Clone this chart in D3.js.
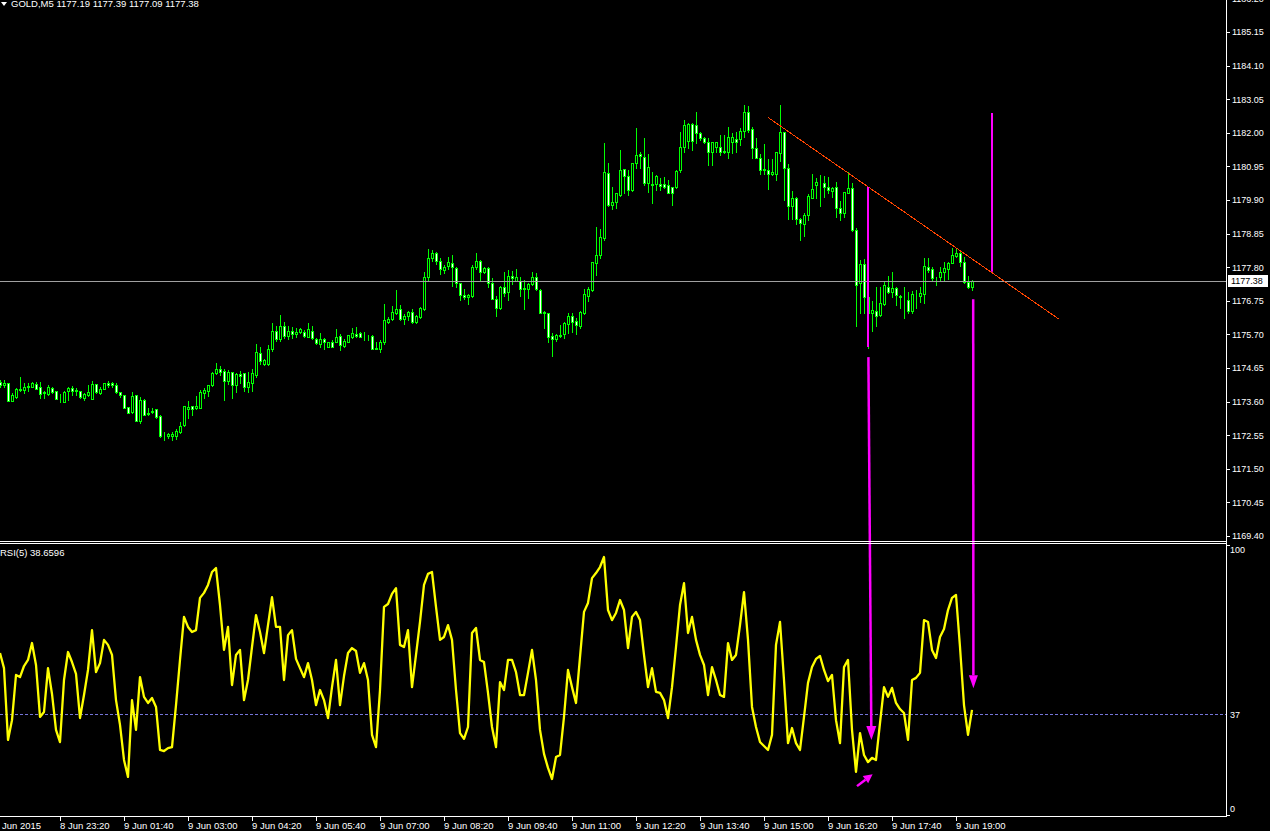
<!DOCTYPE html>
<html>
<head>
<meta charset="utf-8">
<script src="https://cdn.jsdelivr.net/npm/d3@7"></script>
<style>
body { margin: 0; background: #000; overflow: hidden; }
svg { display: block; }
text { font-family: "Liberation Sans", Arial, sans-serif; font-size: 9.5px; fill: #fff; }
text.axis { font-size: 9px; }
</style>
</head>
<body>
<svg id="chart" width="1270" height="831"></svg>
<script>
// GOLD M5 candles, bar 0 = leftmost visible bar
const open = [
1174.21,1174.13,1174.17,1173.63,1173.73,1173.98,1173.96,1174.06,1174.07,1174.14,
1174.05,1173.91,1173.83,1174.03,1173.93,1173.61,1173.60,1173.92,1174.03,1173.96,
1173.93,1173.71,1173.80,1173.69,1174.15,1173.86,1174.00,1174.18,1174.19,1174.12,
1173.89,1173.80,1173.42,1173.29,1173.80,1172.98,1173.65,1173.24,1173.27,1173.36,
1173.15,1172.53,1172.51,1172.51,1172.53,1172.64,1172.87,1173.36,1173.45,1173.40,
1173.41,1173.86,1173.94,1174.13,1174.48,1174.62,1174.55,1174.25,1174.53,1174.12,
1174.47,1174.49,1174.05,1174.19,1174.44,1175.13,1174.78,1174.76,1175.23,1175.80,
1175.55,1175.95,1175.65,1175.80,1175.70,1175.78,1175.78,1175.63,1175.82,1175.56,
1175.40,1175.55,1175.32,1175.45,1175.47,1175.64,1175.34,1175.47,1175.63,1175.70,
1175.73,1175.66,1175.66,1175.65,1175.28,1175.25,1175.47,1176.10,1176.19,1176.36,
1176.48,1176.17,1176.28,1176.39,1176.10,1176.23,1176.48,1177.50,1178.10,1178.23,
1178.00,1177.71,1177.85,1177.94,1177.77,1177.30,1176.92,1176.86,1176.91,1177.82,
1177.99,1177.64,1177.77,1177.32,1176.80,1176.53,1177.17,1177.01,1177.53,1177.38,
1177.38,1177.14,1177.11,1177.28,1177.49,1177.09,1176.40,1176.36,1175.65,1175.55,
1175.69,1175.71,1176.02,1176.28,1176.12,1175.96,1176.38,1176.90,1177.09,1177.94,
1178.18,1178.70,1180.73,1179.74,1179.83,1180.05,1180.86,1180.65,1180.21,1181.05,
1181.33,1181.25,1180.42,1180.41,1180.39,1180.39,1180.39,1180.37,1180.30,1180.30,
1180.84,1181.57,1181.75,1182.28,1182.24,1181.98,1181.85,1181.72,1181.41,1181.57,
1181.57,1181.44,1181.41,1181.72,1181.80,1181.80,1182.07,1182.66,1182.11,1181.51,
1181.20,1180.87,1180.83,1180.71,1180.70,1181.36,1182.02,1180.89,1179.72,1179.95,
1179.31,1179.14,1179.43,1179.95,1180.38,1180.42,1180.42,1180.32,1180.19,1180.30,
1179.64,1179.50,1180.13,1180.27,1178.96,1177.30,1177.90,1176.86,1176.36,1176.43,
1176.31,1176.65,1177.19,1177.04,1177.14,1176.89,1176.87,1176.76,1176.42,1176.96,
1176.90,1176.96,1177.80,1177.74,1177.47,1177.48,1177.66,1177.75,1177.92,1178.16,
1178.24,1177.95,1177.35,1177.19
];
const high = [
1174.28,1174.28,1174.17,1173.86,1174.03,1174.38,1174.17,1174.19,1174.20,1174.22,
1174.21,1173.94,1174.11,1174.07,1173.93,1173.84,1173.94,1174.06,1174.08,1174.02,
1173.93,1173.86,1174.12,1174.24,1174.15,1174.07,1174.19,1174.25,1174.22,1174.17,
1173.91,1173.81,1173.44,1173.91,1173.81,1173.75,1173.69,1173.39,1173.39,1173.38,
1173.18,1172.65,1172.61,1172.64,1172.74,1172.97,1173.47,1173.62,1173.47,1173.79,
1173.96,1174.02,1174.13,1174.53,1174.82,1174.71,1174.61,1174.60,1174.54,1174.48,
1174.56,1174.49,1174.52,1174.61,1175.40,1175.30,1174.92,1175.37,1176.05,1175.95,
1176.30,1176.10,1175.95,1175.92,1175.90,1175.89,1175.84,1176.05,1175.96,1175.60,
1175.73,1175.60,1175.47,1175.53,1175.87,1175.70,1175.57,1175.68,1175.89,1175.92,
1175.79,1175.79,1175.67,1175.67,1175.47,1175.53,1176.65,1176.23,1176.59,1177.09,
1176.62,1176.34,1176.43,1176.49,1176.31,1176.57,1177.64,1178.36,1178.34,1178.28,
1178.08,1177.86,1178.11,1178.18,1177.82,1177.32,1177.11,1176.95,1177.87,1178.23,
1178.03,1177.82,1177.80,1177.45,1176.91,1177.21,1177.64,1177.71,1177.69,1177.73,
1177.50,1177.40,1177.32,1177.64,1177.62,1177.11,1176.43,1176.38,1175.75,1175.70,
1175.99,1176.09,1176.36,1176.36,1176.22,1176.43,1177.11,1177.19,1177.97,1179.07,
1178.98,1181.67,1181.05,1180.30,1180.13,1181.46,1180.87,1180.84,1181.07,1182.14,
1181.39,1181.83,1181.34,1180.76,1180.68,1180.58,1180.61,1180.53,1180.32,1180.84,
1182.04,1182.40,1182.30,1182.30,1182.64,1182.04,1181.88,1181.83,1181.72,1181.72,
1181.93,1181.93,1182.17,1181.98,1182.04,1182.14,1182.87,1182.85,1182.19,1181.83,
1181.34,1181.65,1181.17,1181.17,1181.41,1182.87,1182.02,1181.03,1180.18,1179.98,
1179.33,1179.48,1180.10,1180.71,1180.58,1180.68,1180.65,1180.61,1180.32,1180.47,
1179.88,1180.16,1180.79,1180.42,1179.02,1178.03,1178.05,1177.14,1176.75,1177.19,
1177.19,1177.35,1177.53,1177.66,1177.19,1176.93,1177.19,1177.04,1177.06,1177.09,
1177.19,1178.08,1178.08,1177.82,1177.50,1177.82,1177.97,1177.97,1178.41,1178.41,
1178.26,1178.13,1177.53,1177.39
];
const low = [
1174.05,1174.05,1173.61,1173.61,1173.71,1173.94,1173.86,1173.94,1174.05,1173.98,
1173.72,1173.71,1173.81,1173.86,1173.68,1173.60,1173.59,1173.65,1173.80,1173.81,
1173.70,1173.65,1173.78,1173.68,1173.86,1173.84,1173.99,1174.07,1174.07,1173.87,
1173.75,1173.40,1173.24,1173.25,1172.99,1172.92,1173.18,1173.18,1173.25,1173.10,
1172.50,1172.41,1172.47,1172.41,1172.43,1172.61,1172.85,1173.10,1173.19,1173.36,
1173.39,1173.72,1173.79,1174.10,1174.46,1174.42,1173.65,1174.16,1173.72,1173.91,
1174.17,1173.94,1173.91,1173.94,1174.37,1174.77,1174.74,1174.73,1175.18,1175.50,
1175.50,1175.60,1175.55,1175.60,1175.62,1175.73,1175.63,1175.61,1175.56,1175.40,
1175.32,1175.23,1175.30,1175.30,1175.45,1175.21,1175.30,1175.46,1175.60,1175.63,
1175.61,1175.53,1175.53,1175.24,1175.25,1175.16,1175.40,1176.07,1176.15,1176.34,
1176.15,1176.04,1176.15,1176.07,1176.07,1176.21,1176.46,1177.40,1178.00,1177.90,
1177.59,1177.61,1177.74,1177.21,1177.19,1176.78,1176.80,1176.64,1176.88,1177.73,
1177.40,1177.61,1177.19,1176.81,1176.29,1176.49,1176.90,1176.78,1177.28,1177.38,
1176.90,1176.49,1176.83,1177.24,1177.09,1176.36,1175.89,1175.47,1175.04,1175.50,
1175.61,1175.60,1175.73,1175.79,1175.72,1175.91,1176.34,1176.74,1177.06,1177.56,
1178.10,1178.65,1179.72,1179.62,1179.64,1180.03,1180.11,1180.06,1180.19,1180.89,
1180.89,1180.37,1180.16,1179.80,1180.21,1180.21,1180.27,1180.11,1179.74,1180.27,
1180.79,1181.41,1181.51,1181.46,1181.67,1181.78,1181.67,1181.00,1181.00,1181.41,
1181.31,1181.36,1181.20,1181.36,1181.41,1181.62,1181.88,1182.04,1181.20,1181.20,
1180.71,1180.71,1180.25,1180.68,1180.53,1181.13,1179.90,1179.31,1179.31,1179.15,
1178.65,1178.76,1179.28,1179.95,1179.95,1179.71,1179.98,1180.11,1179.98,1179.36,
1179.26,1179.38,1180.11,1178.94,1175.96,1176.36,1176.36,1175.27,1175.82,1175.97,
1176.26,1176.62,1176.98,1176.88,1176.62,1176.51,1176.22,1176.36,1176.38,1176.51,
1176.71,1176.67,1177.66,1177.40,1177.23,1177.40,1177.40,1177.42,1177.92,1178.13,
1177.84,1177.32,1177.14,1177.09
];
const close = [
1174.13,1174.19,1173.63,1173.81,1173.98,1173.97,1174.06,1174.08,1174.17,1174.00,
1173.85,1173.86,1174.06,1173.90,1173.69,1173.62,1173.91,1174.03,1173.93,1173.93,
1173.73,1173.83,1173.91,1174.15,1173.90,1174.00,1174.18,1174.12,1174.11,1173.91,
1173.80,1173.41,1173.25,1173.78,1173.00,1173.65,1173.19,1173.20,1173.32,1173.13,
1172.51,1172.54,1172.58,1172.60,1172.69,1172.85,1173.45,1173.44,1173.38,1173.45,
1173.90,1173.96,1174.12,1174.49,1174.62,1174.52,1174.25,1174.53,1174.13,1174.46,
1174.41,1174.06,1174.20,1174.49,1175.14,1174.87,1174.90,1175.23,1175.80,1175.55,
1175.95,1175.65,1175.80,1175.70,1175.78,1175.86,1175.66,1175.86,1175.58,1175.42,
1175.56,1175.46,1175.45,1175.32,1175.63,1175.36,1175.49,1175.68,1175.73,1175.66,
1175.63,1175.66,1175.65,1175.25,1175.25,1175.45,1176.15,1176.18,1176.39,1176.48,
1176.17,1176.27,1176.39,1176.08,1176.27,1176.52,1177.50,1178.10,1178.23,1178.00,
1177.73,1177.82,1177.95,1177.80,1177.30,1176.92,1176.86,1176.92,1177.80,1178.00,
1177.64,1177.77,1177.32,1176.82,1176.52,1177.19,1177.00,1177.53,1177.45,1177.48,
1177.13,1177.11,1177.28,1177.50,1177.11,1176.38,1176.36,1175.63,1175.55,1175.68,
1175.64,1176.05,1176.28,1176.10,1175.98,1176.41,1176.96,1177.11,1177.95,1178.18,
1178.75,1180.77,1179.74,1179.83,1180.11,1180.84,1180.65,1180.21,1181.05,1181.31,
1181.29,1180.42,1180.94,1180.37,1180.66,1180.35,1180.32,1180.11,1180.11,1180.82,
1181.57,1182.24,1182.27,1181.75,1181.98,1181.83,1181.72,1181.41,1181.72,1181.72,
1181.41,1181.41,1181.86,1181.86,1181.72,1182.07,1182.66,1182.09,1181.51,1181.22,
1180.84,1180.84,1180.71,1180.78,1181.39,1182.02,1180.89,1179.72,1179.95,1179.31,
1179.17,1179.43,1180.01,1180.24,1180.45,1180.43,1180.32,1180.21,1180.28,1179.64,
1179.48,1180.14,1180.27,1178.96,1177.25,1177.90,1176.86,1176.36,1176.46,1176.29,
1176.67,1177.25,1177.02,1177.14,1176.93,1176.88,1176.86,1176.42,1176.96,1176.95,
1176.98,1177.84,1177.71,1177.45,1177.46,1177.66,1177.77,1177.94,1178.18,1178.25,
1177.97,1177.35,1177.17,1177.38
];
// RSI(5) read per bar
const rsi = [
60.2,54.5,27.3,34.8,51.9,51.1,55.3,57.6,64.0,55.7,
36.0,37.9,54.5,44.7,31.1,26.5,50.0,60.6,56.8,52.3,
35.6,44.3,53.8,68.9,53.0,56.4,65.2,63.3,59.5,42.4,
33.0,19.7,13.3,42.4,31.1,51.1,43.6,41.3,43.2,39.8,
23.5,23.1,24.2,24.6,40.5,57.6,73.9,70.1,68.2,68.9,
81.1,83.0,86.0,90.9,92.4,78.4,61.4,70.1,48.1,59.5,
61.4,42.4,50.0,62.5,74.6,68.2,60.2,70.8,81.4,70.1,
70.1,50.0,67.0,68.9,58.0,54.5,51.1,56.4,50.0,40.5,
46.2,42.4,35.6,47.3,57.6,40.5,51.5,60.2,62.1,61.0,
52.7,56.4,50.0,29.2,24.6,46.2,77.7,78.8,82.6,84.8,
63.3,62.5,68.9,47.3,59.5,72.0,86.0,90.2,90.9,77.7,
65.2,66.3,70.8,65.2,46.2,29.9,27.7,32.2,67.8,69.7,
57.6,56.8,45.1,32.2,24.6,49.2,46.2,57.6,57.6,53.0,
44.3,44.3,52.7,61.4,50.0,31.1,22.0,16.7,12.5,20.8,
21.6,36.0,53.8,47.3,41.3,58.7,75.8,79.2,88.6,90.5,
92.8,96.6,76.5,72.7,75.4,80.3,76.5,62.1,73.9,75.8,
72.7,59.5,47.3,54.5,45.5,45.1,42.4,35.6,47.3,62.5,
78.4,86.7,67.8,73.9,65.2,59.5,55.7,44.3,54.9,50.0,
44.3,43.6,64.0,57.6,59.5,70.8,83.3,65.2,39.8,32.2,
26.5,25.0,23.5,29.2,63.3,72.0,50.0,26.1,31.8,26.1,
23.5,36.0,48.9,54.9,58.0,59.1,53.8,49.6,51.9,34.8,
26.1,54.9,57.6,31.1,15.2,29.9,21.6,18.9,20.5,19.7,
33.7,47.3,43.6,47.0,41.3,39.0,37.5,27.3,50.0,50.8,
52.7,72.7,72.0,61.4,58.3,66.3,69.3,76.5,81.1,82.2,
62.5,40.5,29.2,38.7
];

const priceTicks = [1186.20,1185.15,1184.10,1183.05,1182.00,1180.95,1179.90,1178.85,1177.80,
  1176.75,1175.70,1174.65,1173.60,1172.55,1171.50,1170.45,1169.40];
const timeTickBars = [15,31,47,63,79,95,111,127,143,159,175,191,207,223,239];
const timeTickLabels = ["8 Jun 23:20","9 Jun 01:40","9 Jun 03:00","9 Jun 04:20","9 Jun 05:40",
  "9 Jun 07:00","9 Jun 08:20","9 Jun 09:40","9 Jun 11:00","9 Jun 12:20","9 Jun 13:40",
  "9 Jun 15:00","9 Jun 16:20","9 Jun 17:40","9 Jun 19:00"];
const firstDate = "8 Jun 2015";
const bid = 1177.38;
const rsiLevel = 37;
const rsiLabels = [100, 37, 0];
const title = "GOLD,M5  1177.19 1177.39 1177.09 1177.38";
const rsiTitle = "RSI(5) 38.6596";

// drawn objects: trend line and magenta arrows (bar index, price or RSI value)
const trendBars = [192, 264.8];
const trendPrices = [1182.48, 1176.17];
const vline1 = { bar: 217, p1: 1180.31, p2: 1175.31 };
const vline2 = { bar: 248, p1: 1182.62, p2: 1177.66 };
const arrow1 = { bar1: 217.1, price: 1174.99, bar2: 217.85, rsi: 27.3 };
const arrow2 = { bar1: 243.3, price: 1176.80, bar2: 243.35, rsi: 46.9 };
const arrow3 = { bar1: 214.25, rsi1: 9.8, bar2: 218.15, rsi2: 14.3 };

const W = 1270, H = 831, plotR = 1226;
const svg = d3.select("#chart");
svg.append("rect").attr("width", W).attr("height", H).attr("fill", "#000");

const x = d3.scaleLinear().domain([0, 243]).range([0, 972]);
const y = d3.scaleLinear().domain([1169.40, 1185.15]).range([536, 32]);
const yr = d3.scaleLinear().domain([0, 100]).range([812, 548]);
const snap = v => Math.round(v) + 0.5;

svg.append("clipPath").attr("id", "mainclip").append("rect")
  .attr("x", 0).attr("y", 0).attr("width", plotR).attr("height", 541);
svg.append("clipPath").attr("id", "rsiclip").append("rect")
  .attr("x", 0).attr("y", 544).attr("width", plotR).attr("height", 272);

const main = svg.append("g").attr("clip-path", "url(#mainclip)");
const bars = d3.range(open.length);

// wicks
main.append("g").selectAll("line").data(bars).join("line")
  .attr("x1", i => x(i) + 0.5).attr("x2", i => x(i) + 0.5)
  .attr("y1", i => Math.round(y(high[i]))).attr("y2", i => Math.round(y(low[i])) + 1)
  .attr("stroke", "#00ff00").attr("stroke-width", 1)
  .attr("shape-rendering", "crispEdges");

// bodies
main.append("g").selectAll("rect").data(bars).join("rect")
  .attr("x", i => x(i) - 0.5)
  .attr("y", i => snap(y(Math.max(open[i], close[i]))))
  .attr("width", 2)
  .attr("height", i => Math.max(0, Math.round(y(Math.min(open[i], close[i]))) - Math.round(y(Math.max(open[i], close[i])))))
  .attr("fill", i => close[i] >= open[i] ? "#000" : "#fff")
  .attr("stroke", "#00ff00").attr("stroke-width", 1)
  .attr("shape-rendering", "crispEdges");

// bid line
main.append("line")
  .attr("x1", 0).attr("x2", plotR).attr("y1", snap(y(bid))).attr("y2", snap(y(bid)))
  .attr("stroke", "#a0a0a0").attr("stroke-width", 1);

// trend line
main.append("line")
  .attr("x1", x(trendBars[0])).attr("y1", y(trendPrices[0]))
  .attr("x2", x(trendBars[1])).attr("y2", y(trendPrices[1]))
  .attr("stroke", "#ff4500").attr("stroke-width", 1)
  .attr("shape-rendering", "crispEdges");

const magenta = "#ff00ff";
main.append("line")
  .attr("x1", x(vline1.bar)).attr("x2", x(vline1.bar))
  .attr("y1", y(vline1.p1)).attr("y2", y(vline1.p2))
  .attr("stroke", magenta).attr("stroke-width", 2);
main.append("line")
  .attr("x1", x(vline2.bar)).attr("x2", x(vline2.bar))
  .attr("y1", y(vline2.p1)).attr("y2", y(vline2.p2))
  .attr("stroke", magenta).attr("stroke-width", 2);

// RSI window
const sub = svg.append("g").attr("clip-path", "url(#rsiclip)");
sub.append("line")
  .attr("x1", 0).attr("x2", plotR).attr("y1", snap(yr(rsiLevel))).attr("y2", snap(yr(rsiLevel)))
  .attr("stroke", "#7474d8").attr("stroke-width", 1).attr("stroke-dasharray", "3,2");
sub.append("path")
  .datum(rsi)
  .attr("d", d3.line().x((d, i) => x(i)).y(d => yr(d)))
  .attr("fill", "none").attr("stroke", "#ffff00").attr("stroke-width", 2.3)
  .attr("stroke-linejoin", "round");

function arrow(x1, y1, x2, y2, len, half, width) {
  const dx = x2 - x1, dy = y2 - y1, L = Math.hypot(dx, dy);
  const ux = dx / L, uy = dy / L, nx = -uy, ny = ux;
  const bx = x2 - ux * len, by = y2 - uy * len;
  svg.append("line").attr("x1", x1).attr("y1", y1).attr("x2", bx).attr("y2", by)
    .attr("stroke", magenta).attr("stroke-width", width);
  svg.append("path")
    .attr("d", `M${x2},${y2}L${bx + nx * half},${by + ny * half}L${bx - nx * half},${by - ny * half}Z`)
    .attr("fill", magenta);
}
arrow(x(arrow1.bar1), y(arrow1.price), x(arrow1.bar2), yr(arrow1.rsi), 14, 5, 2.5);
arrow(x(arrow2.bar1), y(arrow2.price), x(arrow2.bar2), yr(arrow2.rsi), 13, 4.5, 2.5);
arrow(x(arrow3.bar1), yr(arrow3.rsi1), x(arrow3.bar2), yr(arrow3.rsi2), 9, 4.5, 2.5);

// frames
const white = "#fff";
svg.append("line").attr("x1", plotR + 0.5).attr("x2", plotR + 0.5).attr("y1", 0).attr("y2", 817)
  .attr("stroke", white);
[541.5, 543.5, 816.5].forEach(v => {
  svg.append("line").attr("x1", 0).attr("x2", plotR + 1).attr("y1", v).attr("y2", v).attr("stroke", white);
});

// price axis (top label is partly above the window edge, as in the terminal)
const pa = svg.append("g");
pa.selectAll("line").data(priceTicks).join("line")
  .attr("x1", plotR + 1).attr("x2", plotR + 4)
  .attr("y1", d => snap(y(d))).attr("y2", d => snap(y(d)))
  .attr("stroke", white);
pa.selectAll("text").data(priceTicks).join("text")
  .attr("class", "axis")
  .attr("x", 1232).attr("y", d => y(d) + 3.3)
  .text(d => d.toFixed(2));

// bid label
svg.append("rect").attr("x", 1228).attr("y", Math.round(y(bid)) - 6).attr("width", 40).attr("height", 12)
  .attr("fill", "#fff");
svg.append("text").attr("class", "axis").attr("x", 1231).attr("y", y(bid) + 3.5)
  .style("fill", "#000").text(bid.toFixed(2));

// RSI axis
svg.append("g").selectAll("text").data(rsiLabels).join("text")
  .attr("class", "axis")
  .attr("x", 1230)
  .attr("y", d => Math.min(Math.max(yr(d), 550), 809) + 3.3)
  .text(d => d);
[545.5, 815.5].forEach(v => {
  svg.append("line").attr("x1", plotR + 1).attr("x2", plotR + 4)
    .attr("y1", v).attr("y2", v).attr("stroke", white);
});

// time axis
const ta = svg.append("g");
ta.selectAll("line").data(timeTickBars).join("line")
  .attr("x1", d => x(d) + 0.5).attr("x2", d => x(d) + 0.5)
  .attr("y1", 817).attr("y2", 821).attr("stroke", white);
ta.selectAll("text").data(timeTickBars).join("text")
  .attr("x", d => x(d)).attr("y", 829)
  .text((d, i) => timeTickLabels[i]);
// first date label starts left of the window, so only "Jun 2015" shows
svg.append("text").attr("x", x(0) - 6).attr("y", 829).text(firstDate);

// titles
svg.append("path").attr("d", "M1,2L7,2L4,6Z").attr("fill", white);
svg.append("text").attr("x", 11).attr("y", 6.5).text(title);
svg.append("text").attr("x", 0).attr("y", 556).text(rsiTitle);
</script>
</body>
</html>
